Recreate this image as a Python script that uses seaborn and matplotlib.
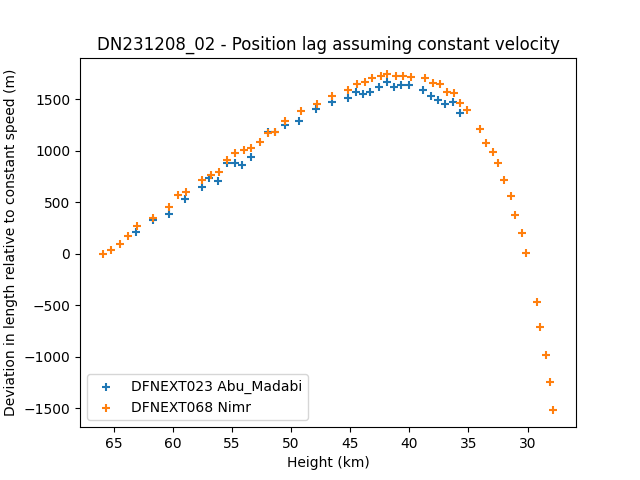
import matplotlib
matplotlib.use("Agg")
import matplotlib.pyplot as plt
import seaborn as sns
import pandas as pd

# DFNEXT023 Abu_Madabi
abu_height = [63.14, 61.70, 60.35, 59.00, 57.56, 56.89, 56.21, 55.45, 54.77, 54.18,
              53.42, 51.98, 51.31, 50.54, 49.28, 47.92, 46.57, 45.22, 44.54, 43.95,
              43.28, 42.60, 41.84, 41.33, 40.66, 39.98, 38.80, 38.20, 37.61, 37.02,
              36.34, 35.75]
abu_dev = [213, 329, 387, 532, 649, 736, 707, 881, 881, 862,
           939, 1181, 1181, 1249, 1287, 1404, 1471, 1510, 1568, 1549,
           1568, 1617, 1665, 1617, 1636, 1636, 1588, 1529, 1491, 1452,
           1471, 1365]

# DFNEXT068 Nimr
nimr_height = [65.93, 65.25, 64.49, 63.82, 63.05, 61.70, 60.35, 59.59, 58.91, 57.48,
               56.80, 56.12, 55.45, 54.69, 54.01, 53.34, 52.66, 51.98, 51.31, 50.54,
               49.19, 47.84, 46.49, 45.14, 44.46, 43.78, 43.11, 42.43, 41.84, 41.16,
               40.57, 39.89, 38.63, 38.03, 37.44, 36.85, 36.26, 35.67, 35.16, 33.98,
               33.55, 32.96, 32.46, 31.95, 31.44, 31.02, 30.51, 30.09, 29.24, 28.91,
               28.48, 28.14, 27.81]
nimr_dev = [0, 39, 97, 174, 271, 348, 455, 571, 600, 716,
            765, 794, 910, 978, 1007, 1026, 1084, 1171, 1181, 1287,
            1384, 1452, 1529, 1588, 1646, 1665, 1704, 1723, 1742, 1723,
            1723, 1713, 1704, 1655, 1646, 1568, 1559, 1462, 1394, 1210,
            1075, 987, 881, 716, 561, 378, 203, 10, -465, -707,
            -978, -1249, -1520]

abu = pd.DataFrame({"height": abu_height, "dev": abu_dev})
nimr = pd.DataFrame({"height": nimr_height, "dev": nimr_dev})

fig, ax = plt.subplots(figsize=(6.4, 4.8), dpi=100)
sns.scatterplot(data=abu, x="height", y="dev", marker="+", color="#1f77b4",
                s=36, linewidth=1.5, label="DFNEXT023 Abu_Madabi", ax=ax)
sns.scatterplot(data=nimr, x="height", y="dev", marker="+", color="#ff7f0e",
                s=36, linewidth=1.5, label="DFNEXT068 Nimr", ax=ax)

ax.invert_xaxis()
ax.set_xlabel("Height (km)")
ax.set_ylabel("Deviation in length relative to constant speed (m)")
ax.set_title("DN231208_02 - Position lag assuming constant velocity")
ax.legend(loc="lower left")

plt.savefig("out.png", dpi=100)
plt.close()
